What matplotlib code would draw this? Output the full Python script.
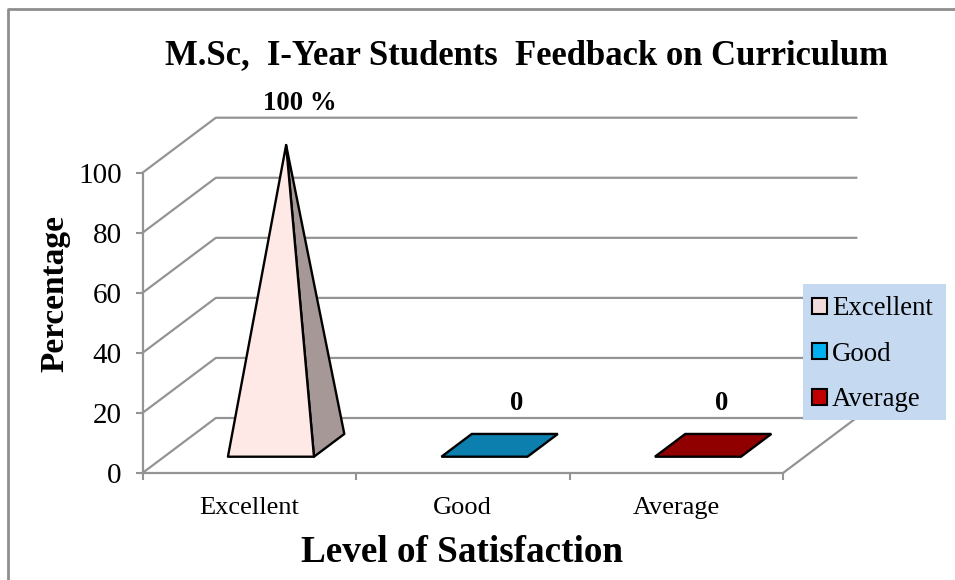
import matplotlib
matplotlib.use('Agg')
from matplotlib import pyplot as plt
from matplotlib.patches import Patch, Polygon, Rectangle

W, H = 955, 580

categories = ['Excellent', 'Good', 'Average']
values = [100, 0, 0]
value_labels = ['100 %', '0', '0']
y_ticks = [0, 20, 40, 60, 80, 100]

front_colors = ['#FFE9E7', '#0C7FAE', '#900000']
side_colors = ['#A69896', '#0A6A92', '#700000']
legend_colors = ['#F2DCDB', '#00B0F0', '#C00000']

GRID = '#949494'

plt.rcParams['font.family'] = ['Liberation Serif', 'DejaVu Serif']

# front plane of the fake 3d box, in pixels of the picture
left, right, top, bottom = 142.5, 783, 172.7, 473

fig = plt.figure(figsize=(W / 100, H / 100), dpi=100)
ax = fig.add_axes([left / W, 1 - bottom / H, (right - left) / W, (bottom - top) / H])
ax.set_xlim(0, 3)
ax.set_ylim(0, 100)
ax.patch.set_alpha(0)

# depth of the box in data units
depth_x = 73.3 / (right - left) * 3
depth_y = 55 / (bottom - top) * 100


def project(x, y, z):
    return x + depth_x * z, y + depth_y * z


# outer chart frame, only left and top are in the crop
fig.add_artist(plt.Line2D([7.5 / W, 7.5 / W, 955 / W], [0, 1 - 9 / H, 1 - 9 / H], color='#8E8E8E', linewidth=2))

# walls and gridlines
for t in y_ticks:
    xs, ys = zip(project(0, t, 0), project(0, t, 1), project(3, t, 1))
    ax.plot(xs, ys, color=GRID, linewidth=1.6, clip_on=False, zorder=1)
xs, ys = zip(project(3, 0, 0), project(3, 0, 1))
ax.plot(xs, ys, color=GRID, linewidth=1.6, clip_on=False, zorder=1)

# pyramids
bar_width = 0.403
z0, z1 = 0.296, 0.71
for i, v in enumerate(values):
    x0 = i + 0.5 - bar_width / 2
    x1 = i + 0.5 + bar_width / 2
    fl = project(x0, 0, z0)
    fr = project(x1, 0, z0)
    br = project(x1, 0, z1)
    bl = project(x0, 0, z1)
    apex = project(i + 0.5, v, (z0 + z1) / 2)
    if v > 0:
        ax.add_patch(Polygon([fr, br, apex], closed=True, facecolor=side_colors[i], edgecolor='black',
                             linewidth=1.7, joinstyle='round', clip_on=False, zorder=3))
        ax.add_patch(Polygon([fl, fr, apex], closed=True, facecolor=front_colors[i], edgecolor='black',
                             linewidth=1.7, joinstyle='round', clip_on=False, zorder=4))
    else:
        ax.add_patch(Polygon([fl, fr, br, bl], closed=True, facecolor=front_colors[i], edgecolor='black',
                             linewidth=1.7, clip_on=False, zorder=3))

# data labels
label_pos = [(0.735, 123.2), (1.754, 23.2), (2.714, 23.2)]
for (lx, ly), txt in zip(label_pos, value_labels):
    ax.text(lx, ly, txt, ha='center', va='center', fontsize=19.3, fontweight='bold', clip_on=False, zorder=5)

# axes
for s in ['top', 'right']:
    ax.spines[s].set_visible(False)
for s in ['left', 'bottom']:
    ax.spines[s].set_color(GRID)
    ax.spines[s].set_linewidth(1.6)
ax.set_yticks(y_ticks)
ax.set_xticks([0, 1, 2, 3])
ax.set_xticklabels([])
ax.set_xticks([0.5, 1.5, 2.5], labels=categories, minor=True)
ax.tick_params(axis='x', which='major', length=5, width=1.5, color=GRID)
ax.tick_params(axis='x', which='minor', length=0, labelsize=19, pad=17)
ax.tick_params(axis='y', length=5, width=1.5, color=GRID, labelsize=21, pad=10)

fig.text(526 / W, 1 - 56 / H, 'M.Sc,  I-Year Students  Feedback on Curriculum', ha='center', va='center',
         fontsize=24.9, fontweight='bold')
fig.text(462 / W, 1 - 553 / H, 'Level of Satisfaction', ha='center', va='center',
         fontsize=26.7, fontweight='bold')
fig.text(55 / W, 1 - 293 / H, 'Percentage', ha='center', va='center', rotation=90,
         fontsize=24, fontweight='bold')

# legend, background drawn apart so the box size can be set
fig.add_artist(Rectangle((803 / W, 1 - 420 / H), 143 / W, 136 / H, transform=fig.transFigure,
                         facecolor='#C5D9F1', edgecolor='none', zorder=9))
handles = [Patch(facecolor=c, edgecolor='black', linewidth=1.5, label=n) for c, n in zip(legend_colors, categories)]
leg = fig.legend(handles=handles, loc='upper left', bbox_to_anchor=(803 / W, 1 - 287 / H), frameon=False,
                 fontsize=19.4, handlelength=0.55, handleheight=0.55, handletextpad=0.18, labelspacing=0.76,
                 borderaxespad=0, borderpad=0.35)
leg.set_zorder(10)

fig.savefig('out.png', dpi=100)
